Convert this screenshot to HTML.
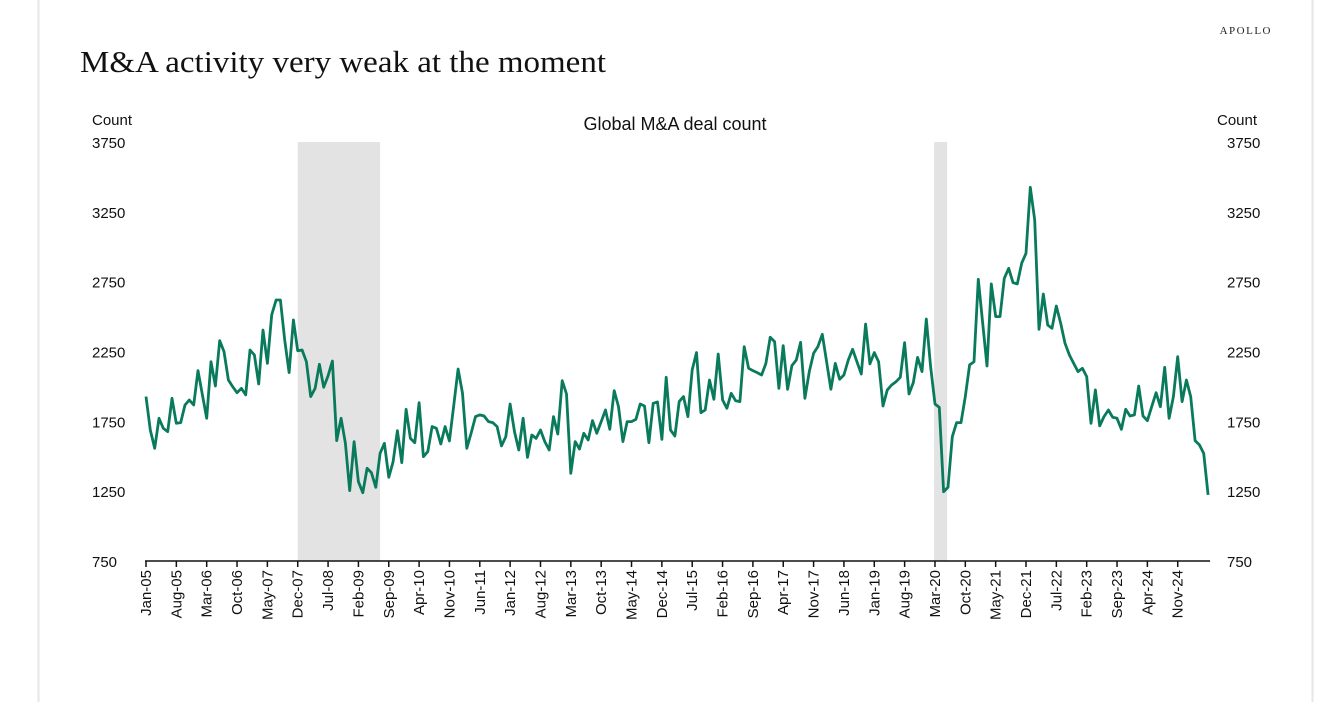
<!DOCTYPE html>
<html><head><meta charset="utf-8"><style>
html,body{margin:0;padding:0;background:#fff;}
svg{display:block;font-family:"Liberation Sans",sans-serif;}
</style></head><body>
<svg id="chart" width="1328" height="702" viewBox="0 0 1328 702" xmlns="http://www.w3.org/2000/svg">
<rect x="0" y="0" width="1328" height="702" fill="#fff"/>
<line x1="38.5" y1="0" x2="38.5" y2="702" stroke="#e6e6e6" stroke-width="2"/>
<line x1="1312.5" y1="0" x2="1312.5" y2="702" stroke="#e6e6e6" stroke-width="2"/>
<text x="1272" y="34" text-anchor="end" font-family="Liberation Serif,serif" font-size="11" letter-spacing="1.5" fill="#222">APOLLO</text>
<text x="80" y="72" font-family="Liberation Serif,serif" font-size="31" fill="#111" textLength="526" lengthAdjust="spacingAndGlyphs">M&amp;A activity very weak at the moment</text>
<text x="675" y="130" text-anchor="middle" font-size="18" fill="#111">Global M&amp;A deal count</text>
<text x="92" y="125" font-size="15" fill="#111">Count</text>
<text x="1217" y="125" font-size="15" fill="#111">Count</text>
<g id="shades"></g><g id="yl"></g><g id="xl"></g><g id="ln"></g>
</svg>
<script>
const yTicks=[750,1250,1750,2250,2750,3250,3750];
const recessions=[[35,54],[181.8,184.8]];
const monthNames=["Jan","Feb","Mar","Apr","May","Jun","Jul","Aug","Sep","Oct","Nov","Dec"];
const dealCount=[1927,1688,1557,1772,1700,1676,1915,1736,1741,1867,1903,1867,2113,1939,1772,2177,2003,2328,2249,2046,1998,1955,1986,1939,2261,2225,2017,2404,2165,2512,2619,2619,2333,2099,2476,2256,2261,2177,1927,1986,2158,1994,2077,2182,1612,1772,1593,1254,1605,1318,1239,1414,1383,1278,1521,1593,1349,1461,1683,1454,1836,1628,1597,1884,
1497,1533,1712,1700,1588,1712,1609,1867,2125,1951,1557,1664,1784,1796,1788,1748,1741,1712,1574,1640,1874,1676,1545,1772,1492,1652,1628,1688,1605,1545,1784,1659,2041,1946,1378,1605,1552,1664,1616,1755,1664,1748,1831,1693,1970,1855,1605,1748,1748,1764,1874,1860,1597,1879,1889,1621,2065,1688,1645,1891,1927,1784,
2118,2242,1812,1831,2046,1908,2232,1903,1843,1951,1898,1891,2285,2130,2113,2099,2082,2165,2352,2321,1986,2292,1979,2149,2189,2316,1915,2106,2237,2285,2373,2177,1979,2165,2051,2082,2189,2266,2177,2089,2447,2161,2242,2177,1860,1975,2010,2034,2065,2313,1946,2027,2208,2106,2483,2142,1874,1850,1246,1278,1640,1741,
1741,1927,2154,2177,2767,2452,2146,2734,2500,2500,2774,2846,2743,2734,2882,2953,3426,3192,2409,2662,2440,2416,2576,2452,2309,2225,2165,2106,2130,2070,1736,1975,1717,1784,1831,1779,1772,1693,1836,1788,1796,2003,1788,1755,1855,1955,1855,2137,1772,1927,2213,1891,2046,1927,1612,1581,1521,1223];
const NS="http://www.w3.org/2000/svg";
const X0=146,DX=4.335,Y0=561,YS=419/3000;
function x(i){return X0+i*DX;}
function y(v){return Y0-(v-750)*YS;}
function mk(t,a,p){const e=document.createElementNS(NS,t);for(const k in a)e.setAttribute(k,a[k]);document.getElementById(p).appendChild(e);return e;}
recessions.forEach(r=>{
 const e=mk('rect',{x:x(r[0]),y:y(3750),width:x(r[1])-x(r[0]),height:y(750)-y(3750),fill:'#e3e3e3'},'shades');
 
 
});
yTicks.forEach(v=>{
 const a=mk('text',{x:92,y:y(v)+6,'font-size':15,fill:'#111'},'yl');a.textContent=v;
 
 
 const b=mk('text',{x:1227,y:y(v)+6,'font-size':15,fill:'#111'},'yl');b.textContent=v;
 
 
});
const ax=mk('line',{x1:x(0)-1,y1:Y0,x2:x(dealCount.length-1)+2,y2:Y0,stroke:'#111','stroke-width':1.5},'xl');


for(let i=0;i<dealCount.length-6;i+=7){
 const t=mk('line',{x1:x(i),y1:Y0,x2:x(i),y2:Y0+6,stroke:'#111','stroke-width':1.5},'xl');
 
 
 const yr=5+Math.floor(i/12);
 const lab=monthNames[i%12]+'-'+String(yr).padStart(2,'0');
 const tx=mk('text',{x:0,y:0,'font-size':15,fill:'#111','text-anchor':'end',transform:`translate(${x(i)+5},${Y0+9}) rotate(-90)`},'xl');
 tx.textContent=lab;
 
 
}
const pl=mk('polyline',{points:dealCount.map((v,i)=>x(i).toFixed(1)+','+y(v).toFixed(1)).join(' '),fill:'none',stroke:'#0a7a5c','stroke-width':2.8,'stroke-linejoin':'round'},'ln');


</script>
</body></html>
